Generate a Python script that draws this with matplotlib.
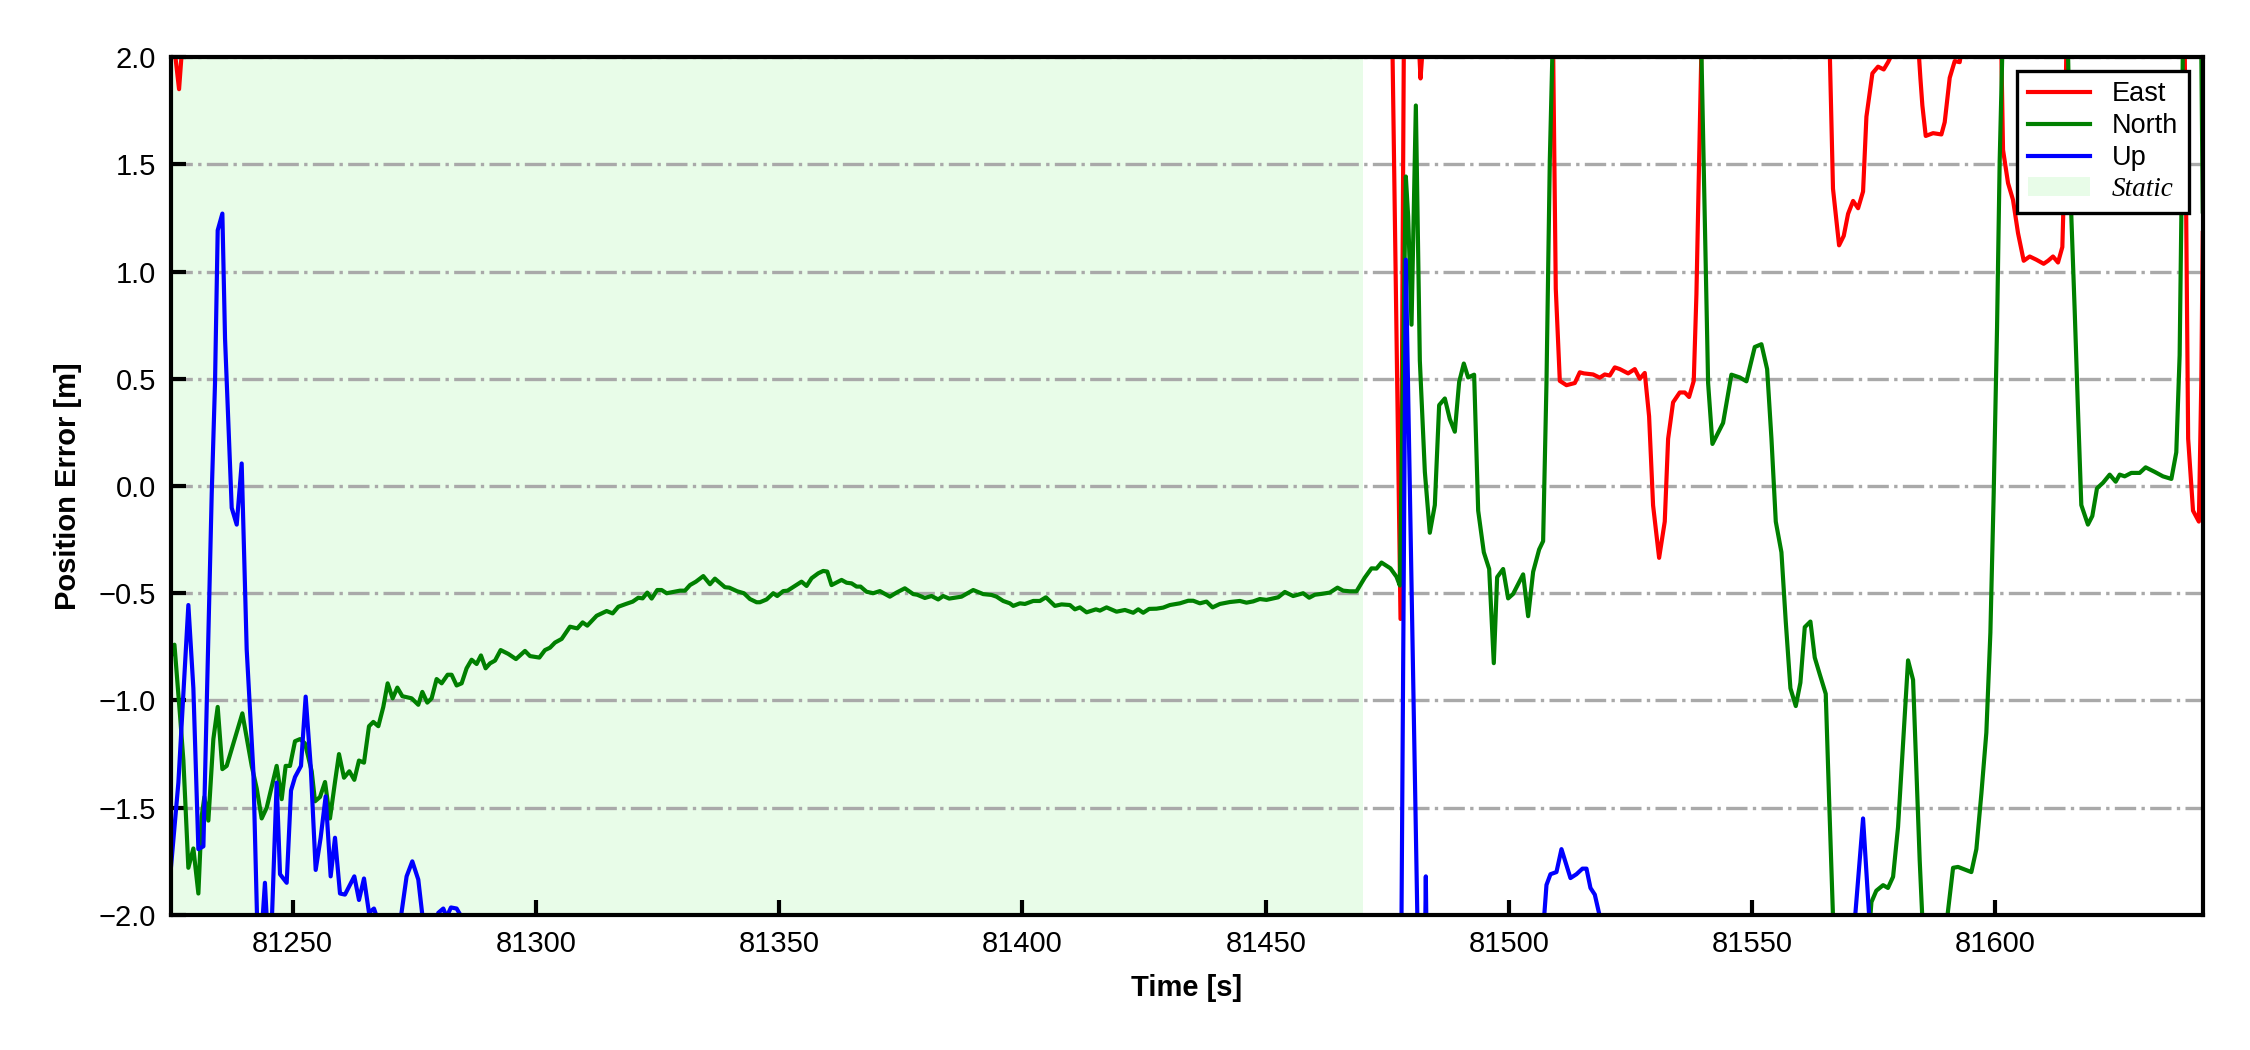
# position error (ENU) vs time, static period shaded

import matplotlib
matplotlib.use("Agg")
from matplotlib import pyplot as plt

plt.rcParams['font.family'] = ['Liberation Sans', 'DejaVu Sans']

# East error: values beyond +2 m are off the plotted range
east_t = [81224.9, 81225.8, 81226.65, 81227.2, 81228.0, 81300.0, 81400.0, 81475.5,
          81476.06, 81477.71, 81478.39, 81480.0, 81481.54, 81481.82, 81482.23, 81495.0,
          81509.08, 81509.62, 81510.45, 81511.82, 81513.53, 81514.56, 81515.38, 81517.3,
          81518.66, 81519.69, 81520.72, 81521.75, 81522.78, 81524.49, 81525.86, 81526.88,
          81527.91, 81528.8, 81529.62, 81530.86, 81532.02, 81532.71, 81533.73, 81535.1,
          81536.13, 81537.02, 81537.98, 81538.53, 81539.08, 81539.55, 81552.0, 81565.93,
          81566.6, 81567.85, 81568.81, 81569.7, 81570.73, 81571.76, 81572.78, 81573.47,
          81574.7, 81575.86, 81577.03, 81577.92, 81578.6, 81581.0, 81584.2, 81584.56,
          81584.97, 81585.66, 81587.17, 81588.88, 81589.56, 81590.59, 81591.62, 81592.64,
          81593.5, 81597.0, 81601.2, 81601.55, 81602.58, 81603.6, 81604.63, 81605.8,
          81607.03, 81608.4, 81609.9, 81610.8, 81611.82, 81612.85, 81613.74, 81614.22,
          81614.56, 81626.0, 81638.9, 81639.6, 81640.6, 81641.8, 81642.3, 81642.6]
east_v = [2.5, 2.02, 1.85, 2.02, 2.5, 3.0, 3.0, 3.5,
          2.03, -0.62, 2.05, 3.0, 2.03, 1.90, 2.03, 3.0,
          2.03, 0.92, 0.49, 0.47, 0.48, 0.53, 0.525, 0.52,
          0.505, 0.52, 0.515, 0.553, 0.545, 0.525, 0.545, 0.50,
          0.527, 0.325, -0.09, -0.335, -0.166, 0.22, 0.39, 0.436,
          0.436, 0.415, 0.49, 0.894, 1.515, 2.03, 3.0, 2.03,
          1.386, 1.122, 1.166, 1.269, 1.329, 1.295, 1.373, 1.722,
          1.924, 1.955, 1.942, 1.976, 2.007, 2.6, 2.03, 1.903,
          1.774, 1.632, 1.645, 1.639, 1.696, 1.903, 1.981, 1.976,
          2.1, 2.8, 2.03, 1.567, 1.412, 1.334, 1.179, 1.05,
          1.07, 1.055, 1.036, 1.05, 1.07, 1.042, 1.114, 1.515,
          2.03, 3.0, 2.03, 0.22, -0.115, -0.166, 0.48, 1.18]

north_t = [81224.9, 81225.7, 81226.85, 81227.54, 81228.56, 81229.59, 81230.62, 81231.3,
           81231.85, 81232.67, 81233.7, 81234.59, 81235.55, 81236.44, 81239.66, 81241.58,
           81242.61, 81243.63, 81244.66, 81246.71, 81247.74, 81248.56, 81249.45, 81250.48,
           81251.51, 81252.54, 81253.91, 81254.59, 81255.62, 81256.65, 81257.67, 81258.7,
           81259.52, 81260.55, 81261.65, 81262.67, 81263.63, 81264.66, 81265.69, 81266.58,
           81267.61, 81268.63, 81269.52, 81270.55, 81271.51, 81272.54, 81274.45, 81275.82,
           81276.65, 81277.67, 81278.56, 81279.59, 81280.62, 81281.85, 81282.67, 81283.7,
           81284.73, 81285.75, 81286.78, 81287.81, 81288.7, 81289.66, 81290.56, 81291.59,
           81292.75, 81294.33, 81295.9, 81297.75, 81298.78, 81300.7, 81301.86, 81302.89,
           81303.92, 81305.29, 81307.0, 81308.5, 81309.6, 81310.56, 81312.48, 81314.53,
           81315.77, 81316.93, 81318.5, 81319.9, 81321.04, 81321.93, 81322.89, 81323.78,
           81324.94, 81325.83, 81326.86, 81329.6, 81330.63, 81331.66, 81332.89, 81334.4,
           81335.77, 81336.79, 81338.85, 81339.74, 81341.38, 81342.75, 81343.99, 81345.35,
           81346.04, 81347.41, 81348.78, 81349.6, 81350.83, 81351.72, 81353.03, 81354.6,
           81355.63, 81356.66, 81358.03, 81359.05, 81359.88, 81360.76, 81362.82, 81363.85,
           81364.88, 81365.9, 81366.72, 81367.95, 81369.33, 81370.69, 81372.75, 81374.12,
           81375.83, 81377.55, 81378.36, 81379.94, 81381.31, 81382.68, 81383.71, 81384.94,
           81387.47, 81389.88, 81391.93, 81393.64, 81394.67, 81396.04, 81397.41, 81398.11,
           81399.48, 81400.51, 81402.22, 81403.59, 81404.82, 81406.67, 81408.04, 81409.75,
           81410.78, 81411.81, 81413.18, 81415.1, 81415.92, 81417.29, 81419.34, 81421.06,
           81422.77, 81423.79, 81424.82, 81426.05, 81427.56, 81428.93, 81430.3, 81432.36,
           81434.07, 81435.1, 81436.47, 81437.84, 81439.07, 81440.58, 81442.63, 81444.69,
           81446.05, 81447.42, 81448.79, 81450.16, 81452.56, 81453.93, 81455.64, 81457.7,
           81458.93, 81460.1, 81461.47, 81463.18, 81464.75, 81465.92, 81467.29, 81468.66,
           81470.37, 81471.74, 81472.77, 81473.8, 81475.64, 81476.88, 81477.57, 81478.8,
           81479.28, 81479.97, 81480.86, 81481.68, 81482.71, 81483.73, 81484.76, 81485.65,
           81486.82, 81487.84, 81488.87, 81489.76, 81490.72, 81491.61, 81492.84, 81493.67,
           81494.83, 81495.93, 81496.88, 81497.57, 81498.8, 81499.83, 81500.86, 81502.91,
           81503.94, 81504.97, 81506.2, 81507.02, 81507.71, 81508.39, 81508.94, 81524.0,
           81539.55, 81540.24, 81540.93, 81541.82, 81544.01, 81545.72, 81547.44, 81548.81,
           81550.52, 81551.89, 81553.06, 81553.95, 81554.84, 81556.0, 81556.89, 81557.85,
           81558.95, 81559.9, 81560.8, 81561.96, 81562.85, 81563.88, 81565.11, 81565.8,
           81566.62, 81570.0, 81574.2, 81574.5, 81575.5, 81576.9, 81577.9, 81578.95,
           81579.97, 81581.0, 81582.03, 81583.06, 81583.74, 81584.42, 81584.97, 81587.5,
           81590.04, 81591.28, 81592.3, 81595.04, 81596.07, 81597.1, 81598.12, 81598.95,
           81599.63, 81600.32, 81600.86, 81601.41, 81608.0, 81614.9, 81615.59, 81616.28,
           81616.96, 81617.64, 81619.0, 81619.9, 81620.86, 81622.1, 81623.47, 81624.7,
           81625.52, 81626.55, 81627.92, 81629.63, 81630.86, 81632.71, 81634.42, 81636.15,
           81637.16, 81637.85, 81638.2, 81638.5, 81640.5, 81642.3, 81642.6]
north_v = [-0.80, -0.74, -1.07, -1.28, -1.78, -1.69, -1.90, -1.54,
           -1.45, -1.56, -1.18, -1.03, -1.32, -1.305, -1.06, -1.305,
           -1.41, -1.55, -1.50, -1.305, -1.46, -1.305, -1.305, -1.19,
           -1.18, -1.20, -1.33, -1.47, -1.45, -1.38, -1.55, -1.38,
           -1.25, -1.36, -1.33, -1.37, -1.28, -1.29, -1.12, -1.10,
           -1.12, -1.03, -0.92, -0.99, -0.94, -0.98, -0.99, -1.02,
           -0.96, -1.01, -0.99, -0.90, -0.92, -0.88, -0.88, -0.93,
           -0.92, -0.85, -0.81, -0.83, -0.79, -0.85, -0.827, -0.814,
           -0.765, -0.783, -0.807, -0.769, -0.793, -0.80, -0.765, -0.754,
           -0.73, -0.713, -0.656, -0.664, -0.636, -0.651, -0.605, -0.583,
           -0.594, -0.563, -0.55, -0.539, -0.521, -0.524, -0.497, -0.525,
           -0.485, -0.485, -0.50, -0.488, -0.488, -0.462, -0.446, -0.42,
           -0.458, -0.432, -0.472, -0.474, -0.491, -0.50, -0.527, -0.542,
           -0.542, -0.529, -0.50, -0.513, -0.49, -0.488, -0.469, -0.446,
           -0.466, -0.43, -0.407, -0.396, -0.399, -0.462, -0.438, -0.451,
           -0.454, -0.469, -0.469, -0.493, -0.50, -0.49, -0.516, -0.497,
           -0.477, -0.504, -0.507, -0.522, -0.513, -0.529, -0.513, -0.525,
           -0.516, -0.485, -0.504, -0.508, -0.516, -0.536, -0.547, -0.559,
           -0.547, -0.55, -0.536, -0.536, -0.519, -0.559, -0.552, -0.555,
           -0.575, -0.566, -0.589, -0.575, -0.581, -0.566, -0.586, -0.578,
           -0.591, -0.575, -0.591, -0.573, -0.572, -0.567, -0.555, -0.547,
           -0.535, -0.535, -0.547, -0.539, -0.566, -0.55, -0.541, -0.536,
           -0.544, -0.538, -0.527, -0.531, -0.519, -0.494, -0.513, -0.50,
           -0.521, -0.507, -0.503, -0.497, -0.474, -0.488, -0.491, -0.491,
           -0.427, -0.384, -0.385, -0.357, -0.384, -0.423, -0.464, 1.443,
           1.256, 0.752, 1.774, 0.584, 0.066, -0.218, -0.089, 0.377,
           0.408, 0.312, 0.253, 0.485, 0.571, 0.506, 0.519, -0.115,
           -0.309, -0.387, -0.826, -0.425, -0.387, -0.524, -0.503, -0.412,
           -0.607, -0.40, -0.296, -0.257, 0.48, 1.515, 2.03, 3.0,
           2.03, 1.256, 0.48, 0.196, 0.294, 0.519, 0.506, 0.488,
           0.648, 0.661, 0.545, 0.221, -0.166, -0.309, -0.632, -0.943,
           -1.026, -0.917, -0.658, -0.632, -0.80, -0.878, -0.969, -1.46,
           -2.02, -2.8, -2.03, -1.94, -1.887, -1.861, -1.874, -1.822,
           -1.59, -1.20, -0.813, -0.904, -1.33, -1.745, -2.02, -2.8,
           -2.02, -1.78, -1.776, -1.80, -1.693, -1.434, -1.15, -0.684,
           -0.037, 0.739, 1.515, 2.03, 3.0, 2.03, 1.256, 0.817,
           0.351, -0.089, -0.18, -0.14, -0.011, 0.015, 0.053, 0.02,
           0.053, 0.045, 0.061, 0.061, 0.087, 0.066, 0.045, 0.033,
           0.157, 0.61, 1.256, 2.03, 3.0, 2.03, 1.28]

# Up error: mostly below -2 m after the first minute
up_t = [81224.9, 81226.51, 81228.56, 81229.59, 81230.62, 81231.65, 81233.36, 81234.04,
        81234.59, 81235.55, 81236.1, 81237.47, 81238.5, 81239.52, 81240.55, 81241.92,
        81243.0, 81244.3, 81245.3, 81246.71, 81247.4, 81248.77, 81249.66, 81250.48,
        81251.71, 81252.67, 81253.7, 81254.73, 81255.75, 81256.78, 81257.81, 81258.7,
        81259.73, 81260.75, 81262.67, 81263.63, 81264.66, 81265.69, 81266.71, 81267.74,
        81270.0, 81272.0, 81273.42, 81274.59, 81275.82, 81276.85, 81278.5, 81279.93,
        81280.96, 81281.64, 81282.53, 81283.7, 81284.73, 81286.0, 81380.0, 81477.0,
        81477.9, 81478.8, 81481.2, 81482.6, 81482.91, 81483.2, 81495.0, 81507.16,
        81507.71, 81508.53, 81509.76, 81510.79, 81512.64, 81513.87, 81515.1, 81515.93,
        81516.75, 81517.64, 81518.8, 81545.0, 81571.07, 81572.78, 81574.1, 81610.0,
        81642.6]
up_v = [-1.80, -1.383, -0.555, -0.943, -1.693, -1.68, -0.037, 0.48,
        1.192, 1.27, 0.687, -0.102, -0.18, 0.105, -0.762, -1.33,
        -2.3, -1.85, -2.3, -1.383, -1.81, -1.85, -1.42, -1.357,
        -1.305, -0.982, -1.305, -1.79, -1.64, -1.447, -1.82, -1.64,
        -1.90, -1.905, -1.82, -1.93, -1.83, -1.99, -1.97, -2.04,
        -2.3, -2.05, -1.82, -1.75, -1.835, -2.04, -2.3, -1.99,
        -1.97, -2.01, -1.965, -1.97, -2.01, -2.5, -2.5, -2.5,
        -2.05, 1.055, -2.05, -2.4, -1.82, -2.4, -2.5, -2.03,
        -1.86, -1.81, -1.80, -1.693, -1.828, -1.81, -1.784, -1.784,
        -1.874, -1.905, -2.02, -2.5, -2.03, -1.55, -2.03, -2.5,
        -2.5]

static_start = 81224.9
static_end = 81470.0
x_range = (81224.9, 81642.6)
y_range = (-2.0, 2.0)

fig = plt.figure(figsize=(7.5, 3.5), dpi=300)
ax = fig.add_axes([0.0758, 0.1286, 0.9032, 0.8171])

ax.axvspan(static_start, static_end, color='#e8fce8', lw=0, label='Static', zorder=0)
ax.plot(east_t, east_v, c='red', lw=1.0, label='East')
ax.plot(north_t, north_v, c='green', lw=1.0, label='North')
ax.plot(up_t, up_v, c='blue', lw=1.0, label='Up')

ax.set_xlim(*x_range)
ax.set_ylim(*y_range)
ax.set_yticks([-2.0, -1.5, -1.0, -0.5, 0.0, 0.5, 1.0, 1.5, 2.0])
ax.set_xticks([81250, 81300, 81350, 81400, 81450, 81500, 81550, 81600])
ax.yaxis.grid(True, ls='-.', lw=0.8, color='#a9a9a9')
ax.set_axisbelow(True)
ax.tick_params(direction='in', length=3.5, width=1.0, labelsize=7)
for s in ax.spines.values():
    s.set_linewidth(1.0)

ax.set_xlabel('Time [s]', fontsize=7, fontweight='bold')
ax.set_ylabel('Position Error [m]', fontsize=7, fontweight='bold')

handles, labels = ax.get_legend_handles_labels()
order = [1, 2, 3, 0]
leg = ax.legend([handles[i] for i in order], [labels[i] for i in order],
                loc='upper right', fontsize=6.5, fancybox=False, framealpha=1,
                edgecolor='black', labelspacing=0.22, handlelength=2.3)
leg.get_frame().set_linewidth(0.8)
static_text = leg.get_texts()[3]
static_text.set_fontfamily('Liberation Serif')
static_text.set_fontstyle('italic')

fig.savefig('out.png', dpi=300)
